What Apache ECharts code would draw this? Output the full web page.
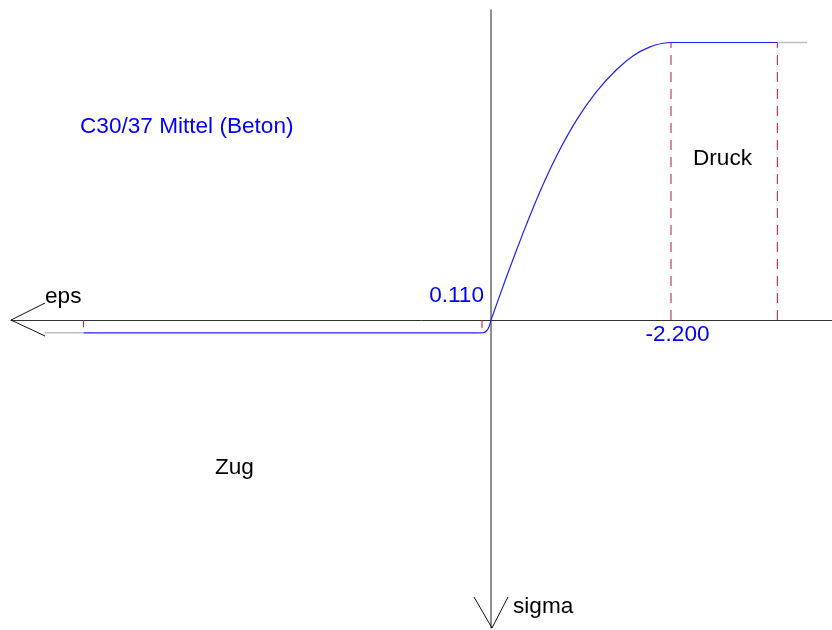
<!DOCTYPE html>
<html>
<head>
<meta charset="utf-8">
<script src="https://cdn.jsdelivr.net/npm/echarts@6/dist/echarts.min.js"></script>
<style>
html,body{margin:0;padding:0;background:#fff;}
#c{width:832px;height:630px;}
</style>
</head>
<body>
<div id="c"></div>
<script>
// strain eps [‰] (compression negative, drawn to the right), stress sigma [MPa] (compression negative, drawn upward)
var compressionCurve = [
  [0, 0], [-0.192, -6.0], [-0.395, -12.0], [-0.599, -17.6], [-0.803, -22.5],
  [-1.047, -27.4], [-1.292, -31.3], [-1.536, -34.3], [-1.739, -36.2],
  [-1.943, -37.4], [-2.1, -37.9], [-2.2, -38.0]
];
var compressionPlateau = [[-2.2, -38.0], [-3.5, -38.0]];
var tensionCurve = [
  [0, 0], [0.024, 0.92], [0.053, 1.47], [0.094, 1.74], [0.15, 1.75]
];
var tensionPlateau = [[0.15, 1.75], [4.98, 1.75]];
var greyCompression = [[-3.5, -38.0], [-3.862, -38.0]];
var greyTension = [[5.45, 1.75], [4.98, 1.75]];
var dashedStrains = [-2.2, -3.5];
var plateauStress = -38.0;
var redTicks = [[4.98, 1.0], [0.110, 1.1]];
var tickLabels = [{ eps: 0.110, text: '0.110' }, { eps: -2.2, text: '-2.200' }];
var xRange = [-4.168, 5.867];
var yRange = [-42.45, 42.17];

var FONT = 'Arial, "Liberation Sans", sans-serif';
var chart = echarts.init(document.getElementById('c'), null, { renderer: 'canvas' });

var BLUE = '#1f1fff';
var series = [];
series.push({ type: 'line', data: greyCompression, symbol: 'none', lineStyle: { color: '#bdbdbd', width: 1.5 }, z: 2, silent: true });
series.push({ type: 'line', data: greyTension, symbol: 'none', lineStyle: { color: '#bdbdbd', width: 1.5 }, z: 2, silent: true });
dashedStrains.forEach(function (e) {
  series.push({ type: 'line', data: [[e, 0], [e, plateauStress]], symbol: 'none',
    lineStyle: { color: '#c8102e', width: 1, type: [10, 7] }, z: 1, silent: true });
});
redTicks.forEach(function (t) {
  series.push({ type: 'line', data: [[t[0], 0], [t[0], t[1]]], symbol: 'none',
    lineStyle: { color: '#d8102c', width: 1 }, z: 3, silent: true });
});
series.push({ type: 'line', data: compressionCurve, symbol: 'none', smooth: 0.2,
  lineStyle: { color: BLUE, width: 1.2 }, z: 5, silent: true });
series.push({ type: 'line', data: compressionPlateau, symbol: 'none',
  lineStyle: { color: BLUE, width: 1.2 }, z: 5, silent: true });
series.push({ type: 'line', data: tensionCurve, symbol: 'none', smooth: 0.3,
  lineStyle: { color: BLUE, width: 1.2 }, z: 5, silent: true });
series.push({ type: 'line', data: tensionPlateau, symbol: 'none',
  lineStyle: { color: BLUE, width: 1.2 }, z: 5, silent: true });

chart.setOption({
  animation: false,
  backgroundColor: '#ffffff',
  grid: { left: 11, right: 0, top: 10, bottom: 2, containLabel: false },
  xAxis: {
    type: 'value', min: xRange[0], max: xRange[1], inverse: true,
    axisLine: { show: true, onZero: true, lineStyle: { color: '#333333', width: 1 } },
    axisTick: { show: false }, axisLabel: { show: false }, splitLine: { show: false }
  },
  yAxis: {
    type: 'value', min: yRange[0], max: yRange[1], inverse: true,
    axisLine: { show: true, onZero: true, lineStyle: { color: '#6a6a6a', width: 1.5 } },
    axisTick: { show: false }, axisLabel: { show: false }, splitLine: { show: false }
  },
  series: series
});

function px(p) { return chart.convertToPixel({ gridIndex: 0 }, p); }
var tipX = px([xRange[1], 0]);
var tipY = px([0, yRange[1]]);
var graphics = [];
graphics.push({ type: 'polyline', shape: { points: [[tipX[0] + 34, tipX[1] - 17], [tipX[0], tipX[1]], [tipX[0] + 34, tipX[1] + 16]] },
  style: { stroke: '#111', lineWidth: 1, fill: null }, z: 10 });
graphics.push({ type: 'polyline', shape: { points: [[tipY[0] - 17, tipY[1] - 31], [tipY[0] + 1, tipY[1]], [tipY[0] + 17, tipY[1] - 31]] },
  style: { stroke: '#111', lineWidth: 1, fill: null }, z: 10 });

function txt(x, y, s, color, align) {
  graphics.push({ type: 'text', x: x, y: y, z: 10,
    style: { text: s, fill: color, font: '22.6px ' + FONT, textAlign: align || 'left', textVerticalAlign: 'middle' } });
}
var t0 = px([tickLabels[0].eps, 0]);
txt(t0[0] + 2, t0[1] - 24, tickLabels[0].text, '#0000ff', 'right');
var t1 = px([tickLabels[1].eps, 0]);
txt(t1[0] + 6.5, t1[1] + 15, tickLabels[1].text, '#0000ff', 'center');
txt(80, 127, 'C30/37 Mittel (Beton)', '#0000ff');
txt(693, 159, 'Druck', '#000000');
txt(215, 467.5, 'Zug', '#000000');
txt(45, 297, 'eps', '#000000');
txt(513, 607, 'sigma', '#000000');

chart.setOption({ graphic: graphics });
</script>
</body>
</html>
